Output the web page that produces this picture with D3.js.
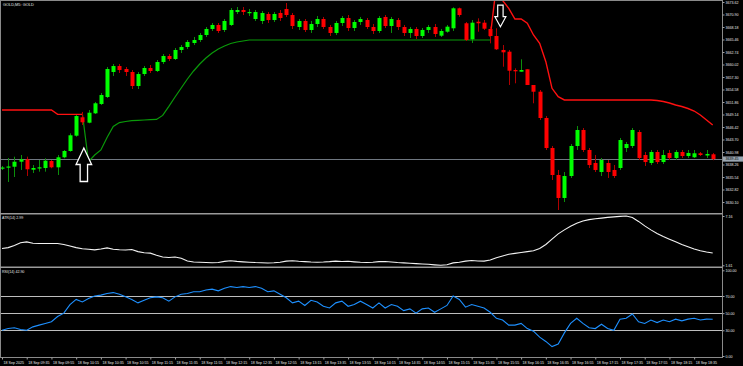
<!DOCTYPE html>
<html><head><meta charset="utf-8">
<script src="https://cdn.jsdelivr.net/npm/d3@7"></script>
<style>html,body{margin:0;padding:0;background:#000;overflow:hidden}svg{display:block}</style>
</head><body>
<svg id="chart" width="743" height="366"></svg>
<script>
// ---------- data ----------
const chartTitle = "GOLD,M5: GOLD";
const timeLabels = ["18 Sep 2025","18 Sep 09:35","18 Sep 09:55","18 Sep 10:15","18 Sep 10:35","18 Sep 10:55","18 Sep 11:15","18 Sep 11:35","18 Sep 11:55","18 Sep 12:15","18 Sep 12:35","18 Sep 12:55","18 Sep 13:15","18 Sep 13:35","18 Sep 13:55","18 Sep 14:15","18 Sep 14:35","18 Sep 14:55","18 Sep 15:15","18 Sep 15:35","18 Sep 15:55","18 Sep 16:15","18 Sep 16:35","18 Sep 16:55","18 Sep 17:15","18 Sep 17:35","18 Sep 17:55","18 Sep 18:15","18 Sep 18:35"];
const barsPerTimeLabel = 4;
const priceTicks = [3673.62,3670.90,3668.18,3665.46,3662.74,3660.02,3657.30,3654.58,3651.86,3649.14,3646.42,3643.70,3640.98,3638.26,3635.54,3632.82,3630.10];
const bidPrice = 3639.45;
const atrTicks = [7.16,1.61];
const rsiTicks = [100,70,50,30,0];
const rsiLevels = [70,50,30];
const atrLabel = "ATR(14) 2.99";
const rsiLabel = "RSI(14) 42.90";

const openP = [3637.39,3637.61,3637.78,3638.87,3639.39,3637.13,3637.44,3637.50,3639.02,3637.65,
3639.83,3641.20,3644.53,3648.53,3647.36,3649.40,3651.43,3652.95,3658.39,3659.69,
3659.04,3658.39,3655.34,3657.95,3659.26,3658.61,3660.56,3661.87,3661.22,3663.18,
3663.83,3664.70,3665.35,3666.44,3667.75,3668.62,3667.53,3668.62,3671.44,3671.88,
3671.23,3669.92,3669.49,3671.01,3669.70,3671.23,3672.10,3670.79,3668.18,3669.49,
3667.53,3668.83,3669.92,3668.18,3666.88,3669.05,3670.14,3667.96,3669.27,3669.70,
3668.18,3667.31,3670.36,3668.40,3669.70,3668.18,3666.88,3667.75,3666.22,3667.53,
3668.18,3666.29,3667.16,3667.90,3672.25,3668.99,3665.50,3669.33,3669.12,3667.75,
3666.22,3663.18,3662.81,3658.82,3658.46,3658.98,3655.56,3654.10,3648.38,3641.85,
3635.98,3630.98,3635.76,3642.29,3645.77,3641.42,3638.59,3636.63,3638.59,3637.07,
3637.50,3641.85,3642.29,3645.33,3640.33,3638.59,3640.98,3638.80,3640.77,3639.68,
3640.98,3640.11,3639.83,3640.70,3640.22,3640.48];
const highP = [3637.94,3639.68,3639.96,3640.33,3639.96,3638.15,3639.24,3639.61,3639.24,3640.33,
3641.42,3645.05,3649.03,3649.69,3650.12,3651.86,3653.82,3659.48,3660.13,3660.13,
3659.48,3658.82,3658.39,3659.69,3659.91,3661.00,3662.30,3662.30,3663.61,3664.26,
3665.35,3666.01,3666.88,3668.18,3669.05,3669.05,3669.92,3672.31,3672.53,3672.53,
3672.10,3671.88,3671.66,3671.44,3671.44,3671.88,3673.40,3671.23,3669.92,3669.92,
3669.49,3670.57,3670.36,3668.62,3669.49,3670.57,3670.79,3669.70,3670.36,3670.14,
3668.83,3670.57,3670.79,3670.36,3670.14,3668.62,3668.18,3668.18,3667.96,3668.62,
3668.83,3667.75,3668.62,3672.47,3672.40,3669.27,3669.70,3670.07,3669.70,3668.25,
3667.90,3664.26,3663.18,3659.19,3661.15,3658.98,3655.56,3654.47,3648.81,3642.29,
3637.07,3636.63,3642.72,3646.64,3646.20,3641.85,3640.33,3639.68,3639.24,3638.15,
3644.03,3643.16,3646.20,3645.77,3640.98,3641.42,3641.42,3641.42,3641.42,3641.42,
3641.42,3641.42,3641.42,3640.98,3641.42,3640.77];
const lowP = [3637.07,3634.46,3635.54,3637.07,3635.76,3636.41,3636.70,3636.70,3637.44,3635.98,
3639.61,3641.05,3644.31,3646.86,3647.23,3649.25,3651.21,3652.73,3657.52,3658.17,
3657.52,3654.69,3654.69,3657.52,3658.17,3658.39,3660.13,3660.78,3661.00,3662.52,
3663.39,3664.26,3664.92,3666.01,3667.31,3666.88,3667.09,3668.40,3671.01,3670.79,
3670.57,3669.49,3668.83,3669.05,3669.27,3669.49,3670.36,3667.75,3667.53,3667.09,
3666.88,3668.18,3667.75,3666.22,3666.44,3668.40,3667.31,3667.31,3668.62,3667.75,
3666.66,3666.88,3667.96,3666.88,3667.53,3666.22,3665.79,3665.57,3665.79,3666.88,
3666.01,3666.01,3666.94,3667.31,3670.42,3665.13,3664.70,3667.16,3667.53,3664.63,
3663.18,3659.54,3655.56,3655.93,3658.46,3655.56,3651.58,3647.95,3641.42,3634.89,
3628.36,3630.10,3635.33,3641.42,3640.98,3637.50,3636.63,3635.76,3635.33,3635.33,
3637.07,3640.98,3641.85,3639.24,3637.94,3638.15,3638.37,3638.37,3639.24,3639.24,
3639.68,3639.68,3639.68,3640.11,3639.68,3639.20];
const closeP = [3637.61,3637.83,3638.87,3639.39,3637.22,3637.50,3637.65,3639.09,3637.65,3639.83,
3641.20,3644.62,3648.81,3647.45,3649.53,3651.58,3653.38,3659.04,3659.69,3658.82,
3658.39,3655.34,3657.95,3659.26,3658.61,3660.56,3661.87,3661.22,3663.18,3663.83,
3664.92,3665.35,3666.44,3667.75,3668.62,3667.31,3669.49,3671.88,3671.88,3671.44,
3671.44,3671.44,3671.23,3669.70,3671.01,3670.14,3670.79,3668.40,3669.49,3667.53,
3668.83,3669.92,3668.18,3666.88,3669.05,3670.14,3667.96,3669.27,3669.92,3668.18,
3667.31,3670.14,3668.40,3669.92,3668.18,3666.88,3667.75,3666.22,3667.53,3668.18,
3666.66,3667.31,3668.25,3672.25,3670.79,3665.35,3669.12,3668.99,3667.81,3666.22,
3663.33,3662.67,3658.67,3658.54,3658.82,3655.56,3654.10,3648.38,3641.85,3635.98,
3630.98,3635.76,3642.29,3645.77,3641.42,3638.15,3637.07,3639.24,3636.63,3635.76,
3643.59,3642.72,3645.77,3639.68,3638.80,3640.98,3638.80,3640.33,3639.68,3640.98,
3640.11,3640.77,3640.70,3640.33,3640.55,3639.45];

// trailing-stop style lines (start bar + values)
const greenLineStart = 13;
const greenLine = [3649.40,3638.87,3640.33,3641.42,3644.14,3646.53,3647.38,3647.62,3647.81,3647.88,
3647.95,3648.01,3648.08,3648.95,3650.90,3652.95,3654.91,3656.87,3658.61,3660.13,
3661.44,3662.52,3663.39,3664.05,3664.59,3664.92,3665.13,
3665.35,3665.35,3665.35,3665.35,3665.35,3665.35,3665.35,3665.35,3665.35,3665.35,
3665.35,3665.35,3665.35,3665.35,3665.35,3665.35,3665.35,3665.35,3665.35,3665.35,
3665.35,3665.35,3665.35,3665.35,3665.35,3665.35,3665.35,3665.35,3665.35,3665.35,
3665.35,3665.35,3665.35,3665.35,3665.35,3665.35,3665.35,3665.35,3665.35,3665.35];
const redLine1Start = 0;
const redLine1 = [3650.12,3650.12,3650.12,3650.12,3650.12,3650.12,3650.12,3650.12,3650.12,
3649.18,3649.18,3649.18,3649.18,3649.18];
const redLine2Start = 79;
const redLine2 = [3666.01,3677.32,3673.95,3672.25,3669.92,3669.92,3668.99,3666.44,3664.63,3660.63,
3654.84,3653.01,3652.30,3652.30,3652.30,3652.30,3652.30,3652.30,3652.30,3652.30,
3652.30,3652.30,3652.30,3652.30,3652.30,3652.30,3652.30,3652.19,3651.97,3651.64,
3651.21,3650.88,3650.45,3649.90,3649.03,3647.95,3646.86];

const arrowsUp = [{bar:13, price:3641.85}];
const arrowsDown = [{bar:80, price:3668.25}];

const atrValues = [3.50,3.60,3.85,4.15,4.25,4.10,4.07,4.07,4.07,4.07,
3.95,3.78,3.60,3.48,3.42,3.35,3.45,3.57,3.42,3.36,
3.34,3.39,3.15,3.03,2.98,2.75,2.55,2.48,2.55,2.40,
2.10,1.98,1.95,1.92,1.90,1.93,2.05,2.12,2.05,2.00,
1.96,1.92,1.90,1.87,1.89,1.95,2.08,2.12,2.06,2.02,
1.98,1.96,1.98,2.02,2.08,2.04,2.06,2.00,1.95,1.92,
1.95,2.02,2.04,1.98,1.92,1.88,1.84,1.80,1.76,1.72,
1.66,1.61,1.68,1.88,1.95,2.08,2.15,2.10,2.08,2.20,
2.45,2.65,2.85,2.95,3.05,3.15,3.25,3.50,3.95,4.55,
5.15,5.60,6.00,6.35,6.60,6.75,6.85,6.92,7.00,7.06,
7.12,7.16,7.00,6.55,6.05,5.60,5.20,4.85,4.55,4.25,
3.95,3.70,3.45,3.25,3.10,2.99];

const rsiValues = [30,32,33,31,30,34,36,38,40,46,
50,60,66,63,67,70,71,73,74,72,
69,66,62,65,68,69,68,64,69,72,
73,75,75,77,78,76,79,81,80,81,
80,81,79,75,76,72,68,62,64,59,
65,63,58,56,62,64,58,60,64,60,
56,62,56,60,58,53,55,50,55,56,
51,55,59,70,66,57,60,58,56,51,
44,42,36,36,38,32,29,22,17,11,
14,27,38,44,38,33,32,37,32,30,
43,44,49,40,38,42,39,42,40,43,
41,43,44,42,43,42.9];

// ---------- layout ----------
const W = 743, H = 366;
const plotRight = 722;
const mainTop = 0, mainBottom = 213;
const atrTop = 214.5, atrBottom = 266.5;
const rsiTop = 268, rsiBottom = 357;
const FONT = "'Liberation Sans', Arial, sans-serif";
const FS = 3.6;
const txtColor = "#e8e8e8";
const frameColor = "#8a8a8a";

const n = closeP.length;
const x = d3.scaleLinear().domain([0, n-1]).range([2, 712.7]);
const yMain = d3.scaleLinear().domain([3627.71, 3674.055]).range([mainBottom, mainTop]);
const yAtr = d3.scaleLinear().domain([1.61, 7.16]).range([265.3, 216]);
const yRsi = d3.scaleLinear().domain([0, 100]).range([356, 270.3]);

const svg = d3.select("#chart");
svg.append("rect").attr("width", W).attr("height", H).attr("fill", "#000");

const defs = svg.append("defs");
function clip(id, y0, y1){
  defs.append("clipPath").attr("id", id).append("rect")
    .attr("x", 0).attr("y", y0).attr("width", plotRight).attr("height", y1-y0);
  return `url(#${id})`;
}
const clipMain = clip("cMain", mainTop, mainBottom);
const clipAtr = clip("cAtr", atrTop, atrBottom);
const clipRsi = clip("cRsi", rsiTop, rsiBottom);

// ---------- main panel ----------
const gMain = svg.append("g").attr("clip-path", clipMain);

// bid line
gMain.append("line").attr("x1", 0).attr("x2", plotRight)
  .attr("y1", Math.round(yMain(bidPrice))+0.5).attr("y2", Math.round(yMain(bidPrice))+0.5)
  .attr("stroke", "#6f7780").attr("stroke-width", 1);

// indicator lines
function segLine(start){
  return d3.line().x((d,i)=>x(start+i)).y(d=>yMain(d));
}
gMain.append("path").datum(greenLine).attr("d", segLine(greenLineStart))
  .attr("fill","none").attr("stroke","#0a9a0a").attr("stroke-width",1.2);
gMain.append("path").datum(redLine1).attr("d", segLine(redLine1Start))
  .attr("fill","none").attr("stroke","#ff1010").attr("stroke-width",1.4);
gMain.append("path").datum(redLine2).attr("d", segLine(redLine2Start))
  .attr("fill","none").attr("stroke","#ff1010").attr("stroke-width",1.4);

// candles
const bars = d3.range(n).map(i=>({i, o:openP[i], h:highP[i], l:lowP[i], c:closeP[i]}));
const cg = gMain.append("g").selectAll("g").data(bars).join("g");
cg.append("line")
  .attr("x1", d=>Math.round(x(d.i))+0.5).attr("x2", d=>Math.round(x(d.i))+0.5)
  .attr("y1", d=>yMain(d.h)).attr("y2", d=>yMain(d.l))
  .attr("stroke", d=> d.c>=d.o ? "#0b8f0b" : "#b00000").attr("stroke-width",1);
cg.append("rect")
  .attr("x", d=>Math.round(x(d.i))-1.5).attr("width", 4)
  .attr("y", d=>yMain(Math.max(d.o,d.c)))
  .attr("height", d=>Math.max(1.2, Math.abs(yMain(d.o)-yMain(d.c))))
  .attr("fill", d=> d.c>=d.o ? "#00ff00" : "#ff0000");

// arrows
gMain.selectAll("path.up").data(arrowsUp).join("path").attr("class","up")
  .attr("transform", d=>`translate(${x(d.bar)+1.5},${yMain(d.price)})`)
  .attr("d","M0,0 L7.8,16.5 L3.7,16.5 L3.7,33.5 L-3.7,33.5 L-3.7,16.5 L-7.8,16.5 Z")
  .attr("fill","#000").attr("stroke","#fff").attr("stroke-width",1.3).attr("stroke-linejoin","miter");
gMain.selectAll("path.dn").data(arrowsDown).join("path").attr("class","dn")
  .attr("transform", d=>`translate(${x(d.bar)+4},${yMain(d.price)})`)
  .attr("d","M0,0 L5.5,-10 L2.7,-10 L2.7,-21.5 L-2.7,-21.5 L-2.7,-10 L-5.5,-10 Z")
  .attr("fill","#000").attr("stroke","#fff").attr("stroke-width",1.2);

// ---------- ATR panel ----------
const gAtr = svg.append("g").attr("clip-path", clipAtr);
gAtr.append("path").datum(atrValues)
  .attr("d", d3.line().x((d,i)=>x(i)).y(d=>yAtr(d)).curve(d3.curveLinear))
  .attr("fill","none").attr("stroke","#f2f2f2").attr("stroke-width",1.1);

// ---------- RSI panel ----------
const gRsi = svg.append("g").attr("clip-path", clipRsi);
gRsi.selectAll("line.lvl").data(rsiLevels).join("line").attr("class","lvl")
  .attr("x1",0).attr("x2",plotRight)
  .attr("y1", d=>Math.round(yRsi(d))+0.5).attr("y2", d=>Math.round(yRsi(d))+0.5)
  .attr("stroke","#bdbdbd").attr("stroke-width",1);
gRsi.append("path").datum(rsiValues)
  .attr("d", d3.line().x((d,i)=>x(i)).y(d=>yRsi(d)))
  .attr("fill","none").attr("stroke","#1e90ff").attr("stroke-width",1.1);

// ---------- frame ----------
const frame = svg.append("g").attr("stroke", frameColor).attr("fill","none");
frame.append("line").attr("x1",0).attr("x2",plotRight).attr("y1",0.5).attr("y2",0.5);
frame.append("line").attr("x1",0.5).attr("x2",0.5).attr("y1",0).attr("y2",rsiBottom);
frame.append("line").attr("x1",0).attr("x2",plotRight).attr("y1",213.8).attr("y2",213.8).attr("stroke-width",1.4).attr("stroke","#9a9a9a");
frame.append("line").attr("x1",0).attr("x2",plotRight).attr("y1",267.3).attr("y2",267.3).attr("stroke-width",1.4).attr("stroke","#9a9a9a");
frame.append("line").attr("x1",plotRight+0.5).attr("x2",plotRight+0.5).attr("y1",0).attr("y2",rsiBottom+0.5);
frame.append("line").attr("x1",0).attr("x2",plotRight+1).attr("y1",rsiBottom+0.5).attr("y2",rsiBottom+0.5);

// ---------- axes ----------
function styleAxis(g){
  g.select(".domain").remove();
  g.selectAll(".tick line").attr("stroke", "#a0a0a0");
  g.selectAll(".tick text").attr("fill", txtColor).attr("font-family", FONT).attr("font-size", FS);
}
svg.append("g").attr("transform",`translate(${plotRight+0.5},0)`)
  .call(d3.axisRight(yMain).tickValues(priceTicks).tickSize(2).tickPadding(1).tickFormat(d3.format(".2f")))
  .call(styleAxis).attr("font-size", FS);
svg.append("g").attr("transform",`translate(${plotRight+0.5},0)`)
  .call(d3.axisRight(yAtr).tickValues(atrTicks).tickSize(2).tickPadding(1).tickFormat(d3.format(".2f")))
  .call(styleAxis).attr("font-size", FS);
svg.append("g").attr("transform",`translate(${plotRight+0.5},0)`)
  .call(d3.axisRight(yRsi).tickValues(rsiTicks).tickSize(2).tickPadding(1).tickFormat(d3.format(".2f")))
  .call(styleAxis).attr("font-size", FS);

const timeTickBars = timeLabels.map((t,k)=>k*barsPerTimeLabel);
const xAxisG = svg.append("g").attr("transform",`translate(0,${rsiBottom+0.5})`)
  .call(d3.axisBottom(x).tickValues(timeTickBars).tickSize(2).tickPadding(1.5)
    .tickFormat((d,k)=>timeLabels[k]))
  .call(styleAxis).attr("font-size", FS);
xAxisG.selectAll(".tick text").attr("text-anchor","start").attr("dx", 1);

// bid label
const by = yMain(bidPrice);
svg.append("rect").attr("x", plotRight+1).attr("y", by-2.6).attr("width", 20).attr("height", 5.2).attr("fill","#9aa6b2");
svg.append("text").attr("x", plotRight+3.5).attr("y", by).attr("dy","0.35em")
  .attr("fill","#000").attr("font-family",FONT).attr("font-size",FS).text(d3.format(".2f")(bidPrice));

// ---------- titles ----------
svg.append("text").attr("x",3).attr("y",5.5).attr("fill",txtColor)
  .attr("font-family",FONT).attr("font-size",FS+0.3).text(chartTitle);
svg.append("text").attr("x",2).attr("y",219).attr("fill",txtColor)
  .attr("font-family",FONT).attr("font-size",FS).text(atrLabel);
svg.append("text").attr("x",2).attr("y",272.5).attr("fill",txtColor)
  .attr("font-family",FONT).attr("font-size",FS).text(rsiLabel);
</script>
</body></html>
